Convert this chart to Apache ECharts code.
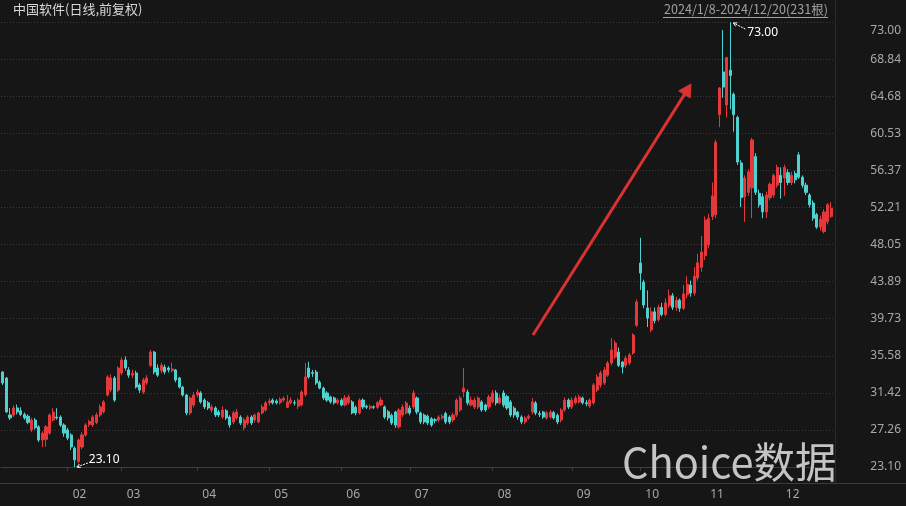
<!DOCTYPE html>
<html><head><meta charset="utf-8">
<script src="https://cdn.jsdelivr.net/npm/echarts@6/dist/echarts.min.js"></script>
<style>html,body{margin:0;padding:0;background:#161616;}#c{width:906px;height:506px;}</style>
</head><body><div id="c"></div>
<script>
const dates = [
'01-08','01-09','01-10','01-11','01-12','01-15','01-16','01-17','01-18','01-19','01-22','01-23','01-24','01-25','01-26','01-29','01-30','01-31',
'02-01','02-02','02-05','02-06','02-07','02-08','02-19','02-20','02-21','02-22','02-23','02-26','02-27','02-28','02-29',
'03-01','03-04','03-05','03-06','03-07','03-08','03-11','03-12','03-13','03-14','03-15','03-18','03-19','03-20','03-21','03-22','03-25','03-26','03-27','03-28','03-29',
'04-01','04-02','04-03','04-08','04-09','04-10','04-11','04-12','04-15','04-16','04-17','04-18','04-19','04-22','04-23','04-24','04-25','04-26','04-29','04-30',
'05-06','05-07','05-08','05-09','05-10','05-13','05-14','05-15','05-16','05-17','05-20','05-21','05-22','05-23','05-24','05-27','05-28','05-29','05-30','05-31',
'06-03','06-04','06-05','06-06','06-07','06-11','06-12','06-13','06-14','06-17','06-18','06-19','06-20','06-21','06-24','06-25','06-26','06-27','06-28',
'07-01','07-02','07-03','07-04','07-05','07-08','07-09','07-10','07-11','07-12','07-15','07-16','07-17','07-18','07-19','07-22','07-23','07-24','07-25','07-26','07-29','07-30','07-31',
'08-01','08-02','08-05','08-06','08-07','08-08','08-09','08-12','08-13','08-14','08-15','08-16','08-19','08-20','08-21','08-22','08-23','08-26','08-27','08-28','08-29','08-30',
'09-02','09-03','09-04','09-05','09-06','09-09','09-10','09-11','09-12','09-13','09-18','09-19','09-20','09-23','09-24','09-25','09-26','09-27','09-30',
'10-08','10-09','10-10','10-11','10-14','10-15','10-16','10-17','10-18','10-21','10-22','10-23','10-24','10-25','10-28','10-29','10-30','10-31',
'11-01','11-04','11-05','11-06','11-07','11-08','11-11','11-12','11-13','11-14','11-15','11-18','11-19','11-20','11-21','11-22','11-25','11-26','11-27','11-28','11-29',
'12-02','12-03','12-04','12-05','12-06','12-09','12-10','12-11','12-12','12-13','12-16','12-17','12-18','12-19','12-20'
];
const openP = [
33.75,33.08,28.93,28.93,29.72,29.40,29.00,28.80,27.25,28.37,27.60,26.13,26.20,26.90,28.37,28.70,28.70,27.80,
27.25,26.70,25.20,23.70,25.34,26.70,27.90,27.80,28.10,28.93,29.27,31.17,31.73,33.08,31.73,
33.64,35.10,33.98,33.40,33.64,32.30,31.50,32.52,34.50,35.99,34.20,33.90,34.30,34.20,33.90,33.98,33.08,32.07,31.17,29.16,30.05,
31.17,31.40,30.60,30.30,29.49,29.72,29.27,28.70,29.40,28.70,28.15,28.60,28.70,27.50,28.03,28.70,28.37,28.15,29.16,29.49,
30.30,30.60,30.50,30.30,30.60,29.80,30.30,30.30,29.90,30.05,31.20,34.20,33.70,33.75,32.60,31.95,31.40,30.95,30.84,30.30,
30.60,30.05,30.30,30.40,29.80,29.16,30.60,29.90,29.70,29.85,29.80,30.05,29.83,29.30,28.90,29.27,27.60,28.93,29.16,
29.70,29.83,30.84,29.16,28.93,28.80,28.50,28.40,28.37,28.60,29.10,28.70,28.37,28.93,29.49,31.50,31.50,30.05,29.83,29.83,30.40,30.05,29.83,
30.40,31.40,30.30,31.40,31.00,30.40,29.70,29.27,28.70,28.15,28.60,29.27,30.28,29.10,29.27,28.60,28.70,29.20,28.90,28.37,29.49,30.60,
29.83,30.30,30.40,30.84,30.30,29.95,30.28,31.73,32.30,32.52,33.40,34.76,35.43,35.99,34.87,34.50,34.76,35.88,39.00,
45.97,43.84,40.93,38.46,40.50,39.60,41.00,40.20,41.20,42.30,41.00,41.80,40.90,42.40,43.50,42.60,44.30,45.50,
46.80,48.00,51.20,51.40,62.60,67.40,63.70,67.60,64.90,62.30,57.20,53.40,53.90,54.40,57.90,53.80,53.40,51.70,53.30,53.60,54.70,
55.80,55.50,56.10,55.00,56.00,58.10,55.60,54.70,53.60,52.70,51.40,50.00,49.50,50.60,51.20
];
const closeP = [
32.52,29.27,28.60,29.72,29.27,29.00,28.60,28.10,28.37,27.50,26.13,26.90,27.60,28.93,29.27,28.60,27.80,26.90,
26.35,25.34,23.90,26.13,26.70,27.80,28.20,28.70,28.93,29.83,30.40,33.20,33.08,30.60,34.20,
35.10,34.20,33.40,33.60,32.07,31.73,32.86,33.08,35.99,33.75,33.40,34.50,33.75,33.98,34.10,32.86,32.07,31.17,29.16,30.84,31.17,
31.50,30.40,29.83,29.72,29.83,28.93,28.93,29.49,28.60,27.80,29.16,29.27,28.03,28.37,28.70,28.03,28.93,29.16,29.83,30.28,
30.50,30.30,30.30,30.70,30.80,30.40,30.60,30.28,30.60,31.50,33.20,33.20,33.60,32.52,31.95,30.84,30.60,30.40,30.30,30.60,
30.05,30.84,30.95,29.16,29.16,30.60,29.83,29.80,29.90,29.80,30.30,30.60,28.70,28.60,28.03,27.80,29.49,29.83,30.28,
29.16,31.40,29.27,28.15,28.15,28.03,27.80,28.30,28.70,28.80,28.15,28.15,28.93,30.60,30.84,31.95,30.28,30.60,30.60,30.84,29.49,29.49,30.95,
31.40,30.28,30.84,30.05,29.72,28.93,28.93,28.70,28.15,28.60,28.80,30.40,29.16,29.00,28.70,29.16,29.27,28.60,28.15,29.49,30.60,29.83,
30.60,30.84,30.95,30.30,30.20,30.60,32.30,33.20,33.64,33.98,34.76,36.22,37.00,34.50,34.30,35.30,35.66,37.90,41.60,
44.85,41.27,39.80,40.50,39.50,41.00,40.20,41.50,42.30,41.00,41.80,40.90,42.50,43.60,42.60,44.50,46.00,47.20,
50.80,51.00,53.50,59.50,65.60,65.70,69.00,67.00,62.60,57.30,53.30,55.50,56.20,59.77,53.90,52.50,51.70,53.60,54.80,55.80,56.70,
55.00,56.70,55.00,55.80,55.30,55.60,54.70,53.90,52.50,51.00,50.00,50.90,51.70,52.50,52.10
];
const lowP = [
32.30,29.15,28.37,28.70,29.00,28.80,28.40,27.90,27.00,27.30,25.90,25.34,25.40,26.70,28.20,28.40,27.60,26.50,
26.10,25.00,23.10,23.50,25.10,26.50,27.60,27.60,27.90,28.70,29.10,31.00,31.50,30.40,31.50,
33.40,33.90,33.10,33.10,31.90,31.40,31.30,32.30,34.30,33.50,33.20,33.60,33.50,33.70,33.70,32.60,31.90,31.00,28.90,28.90,29.80,
30.90,30.20,29.60,29.50,29.20,28.70,28.70,28.50,28.40,27.50,27.90,28.40,27.80,27.20,27.80,27.80,28.10,28.00,29.00,29.30,
30.00,30.10,30.10,30.10,30.40,29.70,30.10,30.00,29.60,29.90,31.00,33.00,33.20,32.30,31.80,30.60,30.40,30.20,30.10,30.10,
29.90,29.90,30.10,29.00,28.90,29.00,29.60,29.60,29.50,29.60,29.60,29.90,28.50,28.30,27.80,27.47,27.40,28.70,29.00,
28.90,29.60,29.00,27.90,27.90,27.80,27.60,28.00,28.10,28.40,27.90,27.90,28.10,28.70,29.30,30.90,30.00,29.90,29.60,29.60,29.30,29.30,29.60,
30.20,30.00,30.10,29.80,29.50,28.70,28.60,28.40,27.90,27.90,28.40,29.00,28.90,28.70,28.50,28.40,28.50,28.40,27.90,28.10,29.30,29.60,
29.60,30.10,30.20,30.10,29.90,29.70,30.10,31.50,32.00,32.30,33.20,34.50,35.20,34.30,33.60,34.20,34.50,35.70,38.80,
42.95,40.90,38.80,38.20,39.20,39.40,40.00,40.00,40.90,40.70,40.60,40.50,40.70,42.00,42.20,42.30,44.00,45.00,
46.30,47.60,50.80,51.00,61.20,64.50,62.30,63.20,60.70,56.97,52.25,50.57,53.50,51.00,53.60,52.20,51.00,51.00,53.00,53.30,54.40,
53.20,53.50,54.70,54.70,54.90,55.40,54.40,53.60,52.20,50.70,49.80,49.60,49.30,50.30,51.00
];
const highP = [
33.86,33.20,29.70,30.00,30.10,29.80,29.20,29.00,28.60,28.60,27.80,27.10,27.80,29.10,29.70,29.70,28.90,28.00,
27.50,26.90,25.40,26.30,27.00,28.00,28.40,28.90,29.20,30.10,30.60,33.40,33.50,33.30,34.40,
35.40,35.50,34.30,34.00,33.90,32.50,33.10,33.40,36.22,36.10,34.60,34.80,34.60,34.40,34.80,34.10,33.20,32.20,31.30,31.00,31.50,
31.80,31.60,30.80,30.50,30.10,29.90,29.50,29.90,29.60,28.90,29.40,29.60,28.90,28.60,28.90,28.90,29.10,29.30,30.10,30.50,
30.80,30.80,30.70,30.90,31.00,31.17,30.90,30.60,30.80,31.70,34.76,34.90,34.00,34.00,32.80,32.10,31.60,31.10,31.00,30.80,
30.80,31.17,31.20,30.60,30.00,30.80,30.80,30.10,30.10,30.00,30.50,30.90,30.00,29.50,29.10,29.40,29.70,30.10,30.50,
30.00,31.70,31.00,29.30,29.10,29.00,28.70,28.60,28.90,29.00,29.30,28.90,29.20,30.80,31.10,34.20,31.80,31.00,30.90,31.00,30.60,30.20,31.20,
31.73,31.70,31.20,31.70,31.20,30.60,29.90,29.40,28.90,28.80,29.00,30.84,30.50,29.40,29.40,29.40,29.50,29.40,29.10,29.70,30.90,30.80,
30.90,31.10,31.20,31.00,30.60,30.80,32.50,33.50,33.90,34.30,35.00,37.56,37.30,36.50,35.00,35.60,35.90,38.10,41.90,
48.80,44.10,42.90,41.00,41.00,41.30,41.50,42.00,43.00,42.60,42.20,42.00,43.50,44.50,44.00,45.50,47.00,49.00,
51.20,51.50,55.00,59.80,65.70,72.10,69.10,73.00,65.10,62.50,57.50,55.80,56.50,60.00,58.30,54.20,53.80,54.00,55.00,56.00,57.00,
56.70,57.00,56.50,56.20,56.30,58.40,55.80,55.00,53.80,53.00,51.60,51.30,52.00,52.70,52.80
];
const yTickLabels = ['23.10','27.26','31.42','35.58','39.73','43.89','48.05','52.21','56.37','60.53','64.68','68.84','73.00'];
const titleText = '中国软件(日线,前复权)';
const rangeText = '2024/1/8-2024/12/20(231根)';
const watermark = 'Choice数据';

const UP = '#e5383b', DOWN = '#4fd1cf';
const isMonthStart = (i) => i > 0 && dates[i].slice(0, 2) !== dates[i - 1].slice(0, 2);
const kdata = dates.map((d, i) => [openP[i], closeP[i], lowP[i], highP[i]]);

const chart = echarts.init(document.getElementById('c'), null, {renderer: 'canvas'});
chart.setOption({
  backgroundColor: '#161616',
  animation: false,
  grid: {left: 1, right: 73, top: 22, bottom: 39, containLabel: false},
  xAxis: {
    type: 'category', data: dates, boundaryGap: true, offset: 16,
    axisLine: {show: true, lineStyle: {color: '#3c3c3c', width: 1}},
    axisTick: {show: true, alignWithLabel: true, interval: (i) => isMonthStart(i), length: 4, lineStyle: {color: '#3c3c3c'}},
    axisLabel: {interval: (i) => isMonthStart(i), formatter: (v) => v.slice(0, 2), color: '#a8a8a8', fontSize: 12,
      fontFamily: 'Noto Sans', align: 'left', padding: [0, 0, 0, 5], margin: 6},
    splitLine: {show: false}
  },
  yAxis: [
    {type: 'value', min: 23.1, max: 73, position: 'right', show: false, splitLine: {show: false}},
    {type: 'value', min: 0, max: 12, interval: 1, position: 'right',
      axisLine: {show: false}, axisTick: {show: false},
      axisLabel: {color: '#a8a8a8', fontSize: 12, fontFamily: 'Noto Sans', align: 'right', margin: 68,
        formatter: (v) => { const s = yTickLabels[Math.round(v)]; return Math.round(v) === 12 ? '{t|' + s + '}' : s; },
        rich: {t: {padding: [18, 0, 0, 0], color: '#a8a8a8', fontSize: 12, fontFamily: 'Noto Sans'}}},
      splitLine: {show: true, lineStyle: {color: '#3a3a3a', type: [1, 2], width: 1}}}
  ],
  series: [{
    type: 'candlestick', xAxisIndex: 0, yAxisIndex: 0, data: kdata, barWidth: '72%',
    itemStyle: {color: UP, color0: DOWN, borderColor: UP, borderColor0: DOWN, borderWidth: 1}
  }]
});

let maxI = 0, minI = 0;
highP.forEach((v, i) => { if (v > highP[maxI]) maxI = i; });
lowP.forEach((v, i) => { if (v < lowP[minI]) minI = i; });
const pH = chart.convertToPixel({xAxisIndex: 0, yAxisIndex: 0}, [maxI, highP[maxI]]);
const pL = chart.convertToPixel({xAxisIndex: 0, yAxisIndex: 0}, [minI, lowP[minI]]);

function arrow(x1, y1, x2, y2, color, w, head, dash, filled) {
  const a = Math.atan2(y2 - y1, x2 - x1);
  const h1 = [x2 - head * Math.cos(a - 0.5), y2 - head * Math.sin(a - 0.5)];
  const h2 = [x2 - head * Math.cos(a + 0.5), y2 - head * Math.sin(a + 0.5)];
  const headEl = filled
    ? {type: 'polygon', shape: {points: [h1, [x2, y2], h2]}, style: {fill: color, stroke: color, lineWidth: 1}, z: 100}
    : {type: 'polyline', shape: {points: [h1, [x2, y2], h2]}, style: {stroke: color, lineWidth: w, fill: null}, z: 100};
  return [
    {type: 'line', shape: {x1, y1, x2: x2 - (filled ? head * 0.6 * Math.cos(a) : 0), y2: y2 - (filled ? head * 0.6 * Math.sin(a) : 0)}, style: {stroke: color, lineWidth: w, lineDash: dash || null}, z: 100},
    headEl
  ];
}

const g = [
  {type: 'text', left: 13, top: 3, style: {text: titleText, fill: '#d8d8d8', font: '13px "Noto Sans CJK SC"'}},
  {type: 'text', right: 78, top: 3, style: {text: rangeText, fill: '#a0a0a0', font: '12.6px "Noto Sans CJK SC"'}},
  {type: 'line', shape: {x1: 663, y1: 17.5, x2: 828, y2: 17.5}, style: {stroke: '#a0a0a0', lineWidth: 1}},
  {type: 'line', shape: {x1: 835.5, y1: 0, x2: 835.5, y2: 483}, style: {stroke: '#2a2a2a', lineWidth: 1}},
  {type: 'line', shape: {x1: 0, y1: 483.5, x2: 906, y2: 483.5}, style: {stroke: '#3c3c3c', lineWidth: 1}},
  {type: 'text', x: 622, y: 462, style: {text: watermark, fill: 'rgba(215,215,215,0.9)', font: '41.5px "Noto Sans CJK SC"', textVerticalAlign: 'middle'}, z: 50},
  {type: 'text', x: pH[0] + 17, y: pH[1] + 11, style: {text: highP[maxI].toFixed(2), fill: '#ffffff', font: '12px "Noto Sans"', textVerticalAlign: 'middle'}, z: 100},
  {type: 'text', x: pL[0] + 14, y: pL[1] - 7, style: {text: lowP[minI].toFixed(2), fill: '#ffffff', font: '12px "Noto Sans"', textVerticalAlign: 'middle'}, z: 100}
]
.concat(arrow(pH[0] + 15, pH[1] + 7, pH[0] + 3, pH[1] + 1, '#ffffff', 1, 4, [2, 1], false))
.concat(arrow(pL[0] + 13, pL[1] - 4, pL[0] + 2, pL[1], '#ffffff', 1, 4, [2, 1], false))
.concat(arrow(533, 335, 691, 84, '#d83232', 3, 14, null, true));
chart.setOption({graphic: g});
</script></body></html>
